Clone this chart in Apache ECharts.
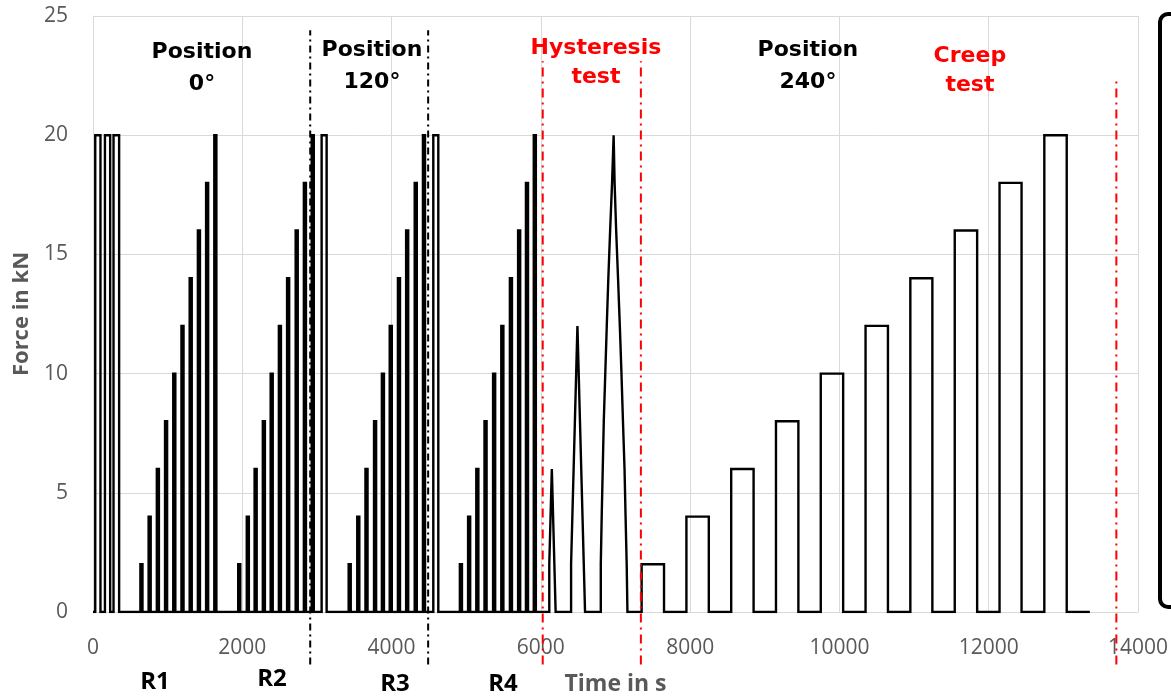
<!DOCTYPE html>
<html><head><meta charset="utf-8">
<script src="https://cdn.jsdelivr.net/npm/echarts@6/dist/echarts.min.js"></script>
<style>html,body{margin:0;padding:0;background:#fff}#c{width:1171px;height:696px}</style>
</head><body><div id="c"></div>
<script>
// ---------- data (time in s, force in kN) ----------
const warmupStarts = [30, 160, 275];
const warmupEnds   = [100, 230, 350];
const warmupForce  = 20;

const rampForces = [2, 4, 6, 8, 10, 12, 14, 16, 18, 20];
const r1Starts = [635, 745, 855, 965, 1075, 1185, 1295, 1405, 1515, 1625];
const r2Starts = [1945, 2060, 2165, 2275, 2380, 2490, 2600, 2715, 2825, 2930];
const r3Starts = [3425, 3540, 3650, 3765, 3870, 3975, 4085, 4195, 4310, 4420];
const r4Starts = [4915, 5025, 5135, 5245, 5360, 5470, 5585, 5695, 5800, 5905];
const rampHold = 28;

const repositionStarts = [3063, 4559];
const repositionEnds   = [3130, 4626];
const repositionForce  = 20;

const hysTimes  = [6113, 6130, 6147, 6164, 6181, 6198,
                   6405, 6422, 6439, 6456, 6473, 6490, 6507, 6524, 6541, 6558, 6575, 6592,
                   6803, 6815, 6829, 6843, 6863, 6883, 6904, 6928, 6954, 6975,
                   6988, 7009, 7034, 7058, 7080, 7100, 7121, 7135, 7150, 7160];
const hysForces = [2, 4, 6, 4, 2, 0,
                   2, 4, 6, 8, 10, 12, 10, 8, 6, 4, 2, 0,
                   2, 4, 6, 8, 10, 12, 14, 16, 18, 20,
                   18, 16, 14, 12, 10, 8, 6, 4, 2, 0];

const creepStarts = [7350, 7950, 8550, 9150, 9750, 10350, 10950, 11545, 12145, 12745];
const creepEnds   = [7650, 8250, 8850, 9450, 10050, 10650, 11245, 11845, 12440, 13045];
const creepForces = [2, 4, 6, 8, 10, 12, 14, 16, 18, 20];
const testEnd = 13355;

const blackDividerTimes = [2910, 4490];
const blackDividerRange = [-2.2, 24.4];
const redDividerTimes = [6025, 7340, 13710];
const redDividerTops  = [23.1, 23.1, 22.4];
const redDividerBottom = -2.2;

const blackNotes = [
  {t: 1460, f: 22.82, text: 'Position\n0°'},
  {t: 3737, f: 22.9, text: 'Position\n120°'},
  {t: 9578, f: 22.9, text: 'Position\n240°'}
];
const redNotes = [
  {t: 6738, f: 23.05, text: 'Hysteresis\ntest'},
  {t: 11748, f: 22.72, text: 'Creep\ntest'}
];
const runNotes = [
  {t: 831, f: -2.94, text: 'R1'},
  {t: 2398, f: -2.81, text: 'R2'},
  {t: 4046, f: -3.02, text: 'R3'},
  {t: 5492, f: -3.02, text: 'R4'}
];

// ---------- build step profile ----------
const events = [];
function addPulse(s, e, f) { events.push([s, f]); events.push([e, 0]); }
warmupStarts.forEach((s, i) => addPulse(s, warmupEnds[i], warmupForce));
[r1Starts, r2Starts, r3Starts, r4Starts].forEach(arr =>
  arr.forEach((s, i) => addPulse(s, s + rampHold, rampForces[i])));
repositionStarts.forEach((s, i) => addPulse(s, repositionEnds[i], repositionForce));
hysTimes.forEach((t, i) => events.push([t, hysForces[i]]));
creepStarts.forEach((s, i) => addPulse(s, creepEnds[i], creepForces[i]));
events.sort((a, b) => a[0] - b[0]);
const profile = [[0, 0]];
let cur = 0;
events.forEach(([t, f]) => { profile.push([t, cur]); profile.push([t, f]); cur = f; });
profile.push([testEnd, 0]);

const series = [{
  type: 'line', data: profile, symbol: 'none', showSymbol: false,
  lineStyle: {color: '#000', width: 2.4, join: 'miter'}, z: 5, animation: false
}];
blackDividerTimes.forEach(t => series.push({
  type: 'line', data: [[t, blackDividerRange[0]], [t, blackDividerRange[1]]],
  symbol: 'none', clip: false, z: 4, animation: false,
  lineStyle: {color: '#000', width: 2, type: [7, 4, 2, 4]}
}));
redDividerTimes.forEach((t, i) => series.push({
  type: 'line', data: [[t, redDividerBottom], [t, redDividerTops[i]]],
  symbol: 'none', clip: false, z: 6, animation: false,
  lineStyle: {color: '#ff0000', width: 2, type: [9, 5, 2, 5]}
}));
function noteSeries(notes, color, family, size, lh) {
  return {
    type: 'scatter', clip: false, symbolSize: 0, z: 10, animation: false,
    itemStyle: {color: color, opacity: 1},
    emphasis: {disabled: true},
    data: notes.map(n => ({value: [n.t, n.f], name: n.text})),
    label: {show: true, position: 'inside', formatter: '{b}', color: color, opacity: 1,
      textBorderWidth: 0, textBorderColor: 'transparent',
      fontFamily: family, fontWeight: 'bold', fontSize: size, lineHeight: lh}
  };
}
series.push(noteSeries(blackNotes, '#000000', 'DejaVu Sans', 22, 32));
series.push(noteSeries(redNotes, '#ff0000', 'DejaVu Sans', 22, 29));
series.push(noteSeries(runNotes, '#000000', 'Open Sans', 24, 28));

const chart = echarts.init(document.getElementById('c'), null, {renderer: 'canvas'});
chart.setOption({
  backgroundColor: '#fff',
  animation: false,
  grid: {left: 93, right: 33, top: 16, bottom: 84, containLabel: false, outerBoundsMode: 'none'},
  xAxis: {
    type: 'value', min: 0, max: 14000, interval: 2000,
    name: 'Time in s', nameLocation: 'middle', nameGap: 61,
    nameTextStyle: {color: '#595959', fontFamily: 'Open Sans', fontWeight: 'bold', fontSize: 23},
    axisLine: {show: true, lineStyle: {color: '#d9d9d9', width: 1}},
    axisTick: {show: false},
    axisLabel: {color: '#595959', fontFamily: 'Open Sans', fontSize: 21, margin: 26,
      formatter: v => String(v)},
    splitLine: {show: true, lineStyle: {color: '#d9d9d9', width: 1}}
  },
  yAxis: {
    type: 'value', min: 0, max: 25, interval: 5,
    name: 'Force in kN', nameLocation: 'middle', nameGap: 56,
    nameTextStyle: {color: '#595959', fontFamily: 'Open Sans', fontWeight: 'bold', fontSize: 22},
    axisLine: {show: true, lineStyle: {color: '#d9d9d9', width: 1}},
    axisTick: {show: false},
    axisLabel: {color: '#595959', fontFamily: 'Open Sans', fontSize: 21, margin: 25,
      formatter: v => String(v)},
    splitLine: {show: true, lineStyle: {color: '#d9d9d9', width: 1}}
  },
  graphic: [{
    type: 'rect', left: 1158, top: 12, z: 20,
    shape: {width: 40, height: 593, r: 8},
    style: {fill: '#fff', stroke: '#000', lineWidth: 4}
  }],
  series: series
});
</script></body></html>
